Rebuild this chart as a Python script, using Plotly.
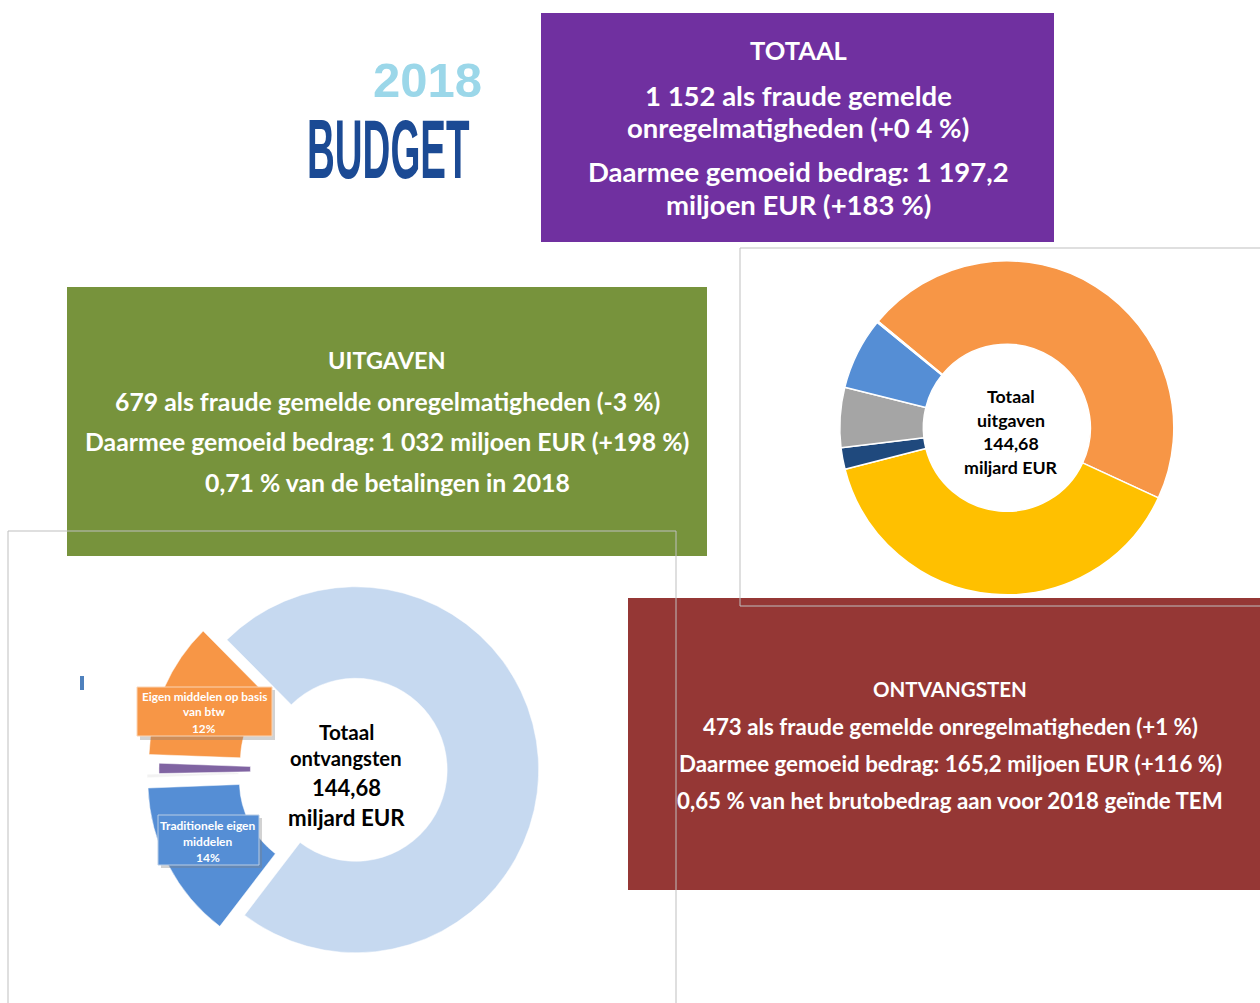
import plotly.graph_objects as go

W, H = 1260, 1003

# ---------------- data ----------------
exp_labels = ["Slimme en inclusieve groei", "Natuurlijke hulpbronnen", "Veiligheid en burgerschap",
              "Europa als wereldspeler", "Administratie", "Bijzondere instrumenten"]
exp_values = [66.4, 56.6, 3.0, 8.4, 10.1, 0.18]          # miljard EUR (geschat)
exp_colors = ["#F79646", "#FFC000", "#1F497D", "#A5A5A5", "#558ED5", "#C6D9F1"]

rev_labels = ["BNI-middelen en overige", "Traditionele eigen middelen", "Overige",
              "Correcties", "Eigen middelen op basis van btw"]
rev_values = [72.8, 14.0, 0.3, 0.9, 12.0]                 # procent (geschat)
rev_colors = ["#C6D9F0", "#558ED5", "#F2F2F2", "#8064A2", "#F79646"]
rev_pull = [0.02, 0.13, 0.12, 0.055, 0.12]

totaal_lines = ["TOTAAL", "1 152 als fraude gemelde", "onregelmatigheden (+0 4 %)",
                "Daarmee gemoeid bedrag: 1 197,2", "miljoen EUR (+183 %)"]
uitgaven_lines = ["UITGAVEN", "679 als fraude gemelde onregelmatigheden (-3 %)",
                  "Daarmee gemoeid bedrag: 1 032 miljoen EUR (+198 %)",
                  "0,71 % van de betalingen in 2018"]
ontv_lines = ["ONTVANGSTEN", "473 als fraude gemelde onregelmatigheden (+1 %)",
              "Daarmee gemoeid bedrag: 165,2 miljoen EUR (+116 %)",
              "0,65 % van het brutobedrag aan voor 2018 geïnde TEM"]
center_exp = ["Totaal", "uitgaven", "144,68", "miljard EUR"]
center_rev = ["Totaal", "ontvangsten", "144,68", "miljard EUR"]
label_vat = ["Eigen middelen op basis", "van btw", "12%"]
label_tor = ["Traditionele eigen", "middelen", "14%"]


def px(x):
    return x / W


def py(y):
    return 1 - y / H


FONT = "Lato"
fig = go.Figure()

# right donut (uitgaven)
cx1, cy1, r1 = 1006.8, 427.8, 167
fig.add_trace(go.Pie(
    labels=exp_labels, values=exp_values, hole=0.5, sort=False, direction="clockwise",
    rotation=-50.4, textinfo="none", hoverinfo="label+value",
    marker=dict(colors=exp_colors, line=dict(color="white", width=1.5)),
    domain=dict(x=[px(cx1 - r1), px(cx1 + r1)], y=[py(cy1 + r1), py(cy1 - r1)]),
    showlegend=False))

# left donut (ontvangsten)
cx2, cy2, r2 = 352, 770, 183
half2 = r2 * (1 + max(rev_pull))
fig.add_trace(go.Pie(
    labels=rev_labels, values=rev_values, hole=0.5, sort=False, direction="clockwise",
    rotation=-44.7, textinfo="none", hoverinfo="label+percent", pull=rev_pull,
    marker=dict(colors=rev_colors, line=dict(color="white", width=0.5)),
    domain=dict(x=[px(cx2 - half2), px(cx2 + half2)], y=[py(cy2 + half2), py(cy2 - half2)]),
    showlegend=False))

shapes = []


def rect(x0, y0, x1, y1, fill=None, line=None, layer="below", lw=1, opacity=1):
    shapes.append(dict(type="rect", xref="paper", yref="paper",
                       x0=px(x0), x1=px(x1), y0=py(y1), y1=py(y0),
                       fillcolor=fill if fill else "rgba(0,0,0,0)",
                       line=dict(color=line if line else "rgba(0,0,0,0)", width=lw if line else 0),
                       layer=layer, opacity=opacity))


# coloured boxes
rect(541, 13, 1054, 242, fill="#7030A0")
rect(67, 287, 707, 556, fill="#77933C")
rect(628, 598, 1260, 890, fill="#953735")
# chart frames
rect(740, 248, 1262, 606, line="#BFBFBF", layer="above")
rect(8, 531, 676, 1005, line="#BFBFBF", layer="above")
# small legend remnant
rect(80, 676, 84, 690, fill="#4F81BD", layer="above")
# data-label boxes with shadow
rect(140, 690, 275, 740, fill="#7F7F7F", layer="above", opacity=0.35)
rect(137, 687, 272, 736, fill="#F79646", line="#FBD5B5", layer="above")
rect(161, 818, 262, 868, fill="#7F7F7F", layer="above", opacity=0.35)
rect(158, 815, 259, 865, fill="#558ED5", line="#B9CDE5", layer="above")

ann = []


def text(s, x, y, size, color="white", family=FONT, bold=True):
    ann.append(dict(text=f"<b>{s}</b>" if bold else s, x=px(x), y=py(y), xref="paper", yref="paper",
                    xanchor="center", yanchor="middle", showarrow=False,
                    font=dict(family=family, size=size, color=color)))


# logo
text("2018", 427, 80, 49, color="#9BD7E9", family="Liberation Sans", bold=True)
text("BUDGET", 388, 150, 38.5, color="#1B4A94", family="Liberation Sans", bold=True)

# totaal box
for s, y, sz in zip(totaal_lines, [50, 95, 128, 172, 204], [25.5, 27.5, 27.5, 27.5, 27.5]):
    text(s, 798, y, sz)
# uitgaven box
for s, y, sz in zip(uitgaven_lines, [360, 401, 441, 482], [23.5, 24.8, 24.8, 24.8]):
    text(s, 387, y, sz)
# ontvangsten box
for s, y, sz in zip(ontv_lines, [689, 726, 763, 800], [20.5, 22.3, 22.3, 22.3]):
    text(s, 950, y, sz)
# donut centers
for s, y in zip(center_exp, [396, 420, 443, 467]):
    text(s, 1011, y, 17.8, color="black")
for s, y, sz in zip(center_rev, [732, 758, 787, 817], [20.7, 20.2, 22, 22.3]):
    text(s, 346, y, sz, color="black")
# data labels
for s, y in zip(label_vat, [696, 711, 728]):
    text(s, 204, y, 11.8)
for s, y in zip(label_tor, [825, 841, 857]):
    text(s, 208, y, 12)

fig.update_layout(width=W, height=H, margin=dict(l=0, r=0, t=0, b=0),
                  paper_bgcolor="white", plot_bgcolor="white",
                  shapes=shapes, annotations=ann)

post = """
document.body.style.margin='0';
document.body.style.padding='0';
document.querySelectorAll('text.annotation-text').forEach(function(t){
  if(t.textContent==='BUDGET'){
    t.style.transformBox='fill-box';
    t.style.transformOrigin='center';
    t.style.transform='scaleY(2.15)';
  }
});
"""
fig.write_html("out.html", post_script=post, config={"displayModeBar": False})
